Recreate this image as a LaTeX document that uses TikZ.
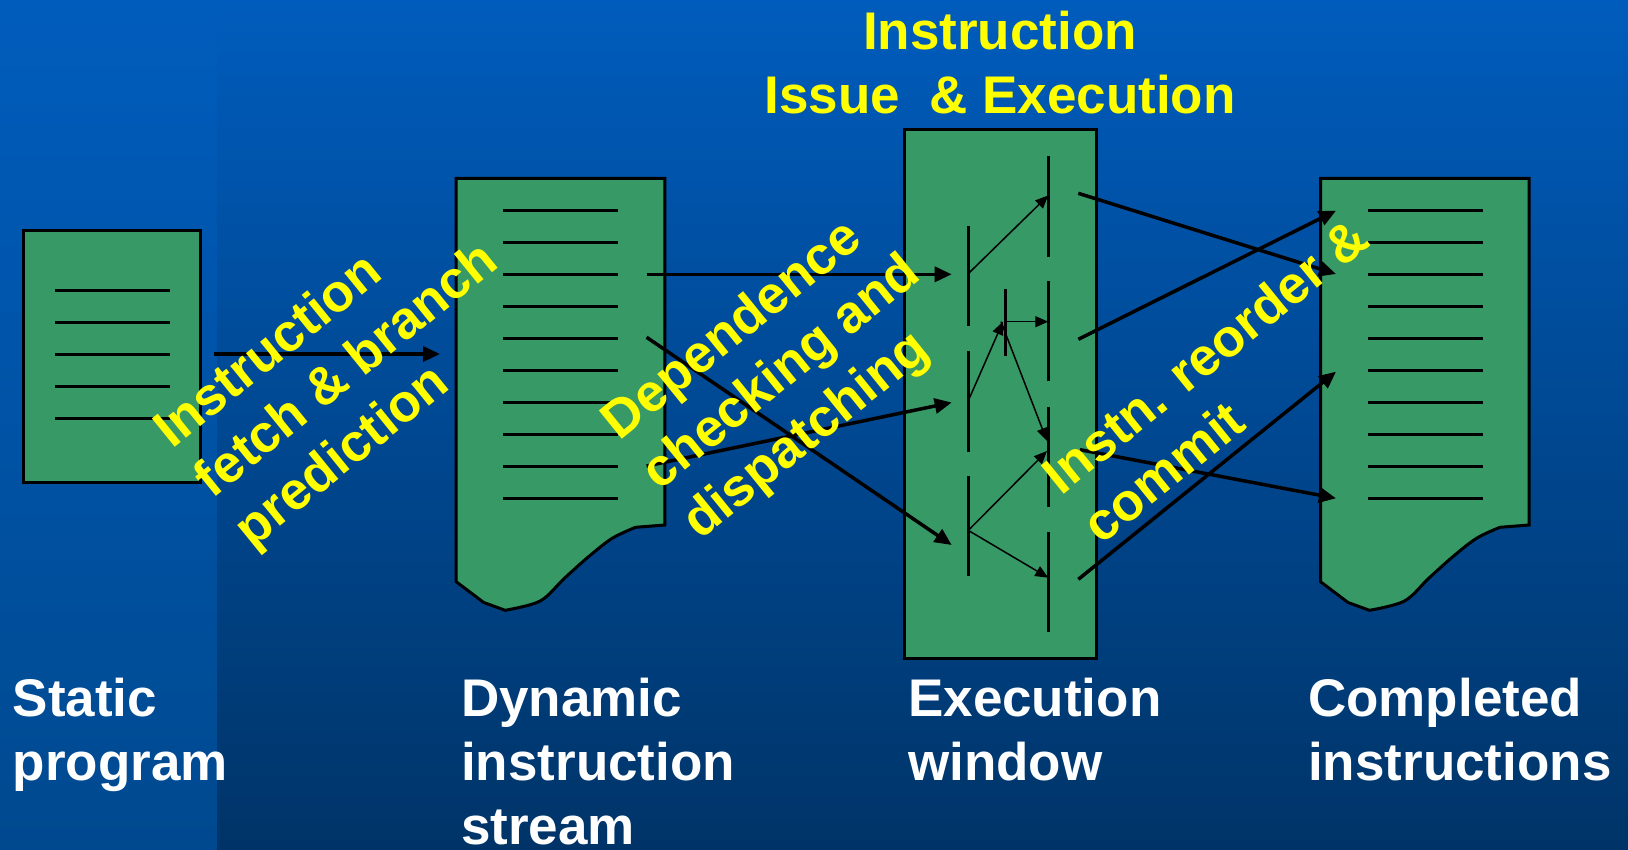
\documentclass[tikz,border=0pt]{standalone}
\usepackage{fontspec}
\setmainfont{Liberation Sans}
\usetikzlibrary{arrows.meta}

\definecolor{bgtop}{HTML}{005CBC}
\definecolor{bgbot}{HTML}{003468}
\definecolor{bandbot}{HTML}{00498F}
\definecolor{docgreen}{HTML}{369966}
\definecolor{labyellow}{HTML}{FFFF00}

\tikzset{
  docbox/.style={fill=docgreen, draw=black, line width=3pt, line join=miter},
  rowline/.style={draw=black, line width=3pt},
  slotbar/.style={draw=black, line width=3pt},
  bigarrow/.style={draw=black, line width=3.5pt, -{Triangle[length=17pt,width=15pt]}},
  thinarrow/.style={draw=black, line width=1.5pt, -{Triangle[length=13pt,width=11pt]}},
  bigfont/.style={font=\bfseries\fontsize{53}{64}\selectfont},
  stagelabel/.style={bigfont, text=labyellow, align=left, rotate=39, inner sep=0pt},
  caption/.style={bigfont, text=white, align=left, anchor=north west, inner sep=0pt},
}

% instruction listing with a torn lower edge; #1 = left x
\newcommand\instrdoc[1]{%
  \begin{scope}[shift={(#1,0)}]
    \draw[docbox] (0,178.3) -- (208.6,178.3) -- (208.6,525)
      -- plot[smooth,tension=0.55] coordinates {(179.4,527.3) (156,538.3) (132,557) (108,578.5) (84,601) (49,610.3)}
      -- (27.5,602.5) -- (0,581.7) -- cycle;
    \foreach \k in {0,...,9}
      \draw[rowline] (47,{210.3+32*\k}) -- (162,{210.3+32*\k});
  \end{scope}}

\begin{document}
\begin{tikzpicture}[x=1pt,y=-1pt]
  \useasboundingbox (0,0) rectangle (1628,849);

  % background
  \shade[top color=bgtop, bottom color=bgbot] (0,0) rectangle (1628,849);
  \shade[top color=bgtop, bottom color=bandbot] (0,0) rectangle (216.7,849);

  % static program
  \draw[docbox] (23,230) rectangle (200.7,482.7);
  \foreach \y in {290,322,354,386,418}
    \draw[rowline] (55,\y) -- (170,\y);

  % dynamic instruction stream and completed instructions
  \instrdoc{456.2}
  \instrdoc{1320.5}

  % execution window
  \draw[docbox] (904,129.8) rectangle (1096.5,658.3);

  % issue slots (column 1, 2, 3)
  \foreach \a/\b in {226/326, 351/451.5, 476/576}
    \draw[slotbar] (968.3,\a) -- (968.3,\b);
  \draw[slotbar] (1005,289) -- (1005,355.7);
  \foreach \a/\b in {156/257, 281/381, 406.6/506.5, 532/632}
    \draw[slotbar] (1048.3,\a) -- (1048.3,\b);

  % end points of the connectors
  \coordinate (sp-out) at (214,354);
  \coordinate (ds-in)  at (440,354);
  \coordinate (ds-a) at (646.6,274.3);
  \coordinate (ds-b) at (646.6,337.3);
  \coordinate (ds-c) at (646.6,466);
  \coordinate (w1-a) at (951.7,274.3);
  \coordinate (w1-b) at (951.7,402.5);
  \coordinate (w1-c) at (951.7,545);
  \coordinate (c1-a) at (968.3,273.6);
  \coordinate (c1-b) at (968.3,400.6);
  \coordinate (c1-c) at (968.3,530.4);
  \coordinate (c2-in)  at (1003,321.7);
  \coordinate (c2-out) at (1005,321.7);
  \coordinate (c2-top) at (1001,321.7);
  \coordinate (c3-a) at (1048.3,195.4);
  \coordinate (c3-b) at (1048.3,321.7);
  \coordinate (c3-c) at (1047,441);
  \coordinate (c3-d) at (1047,451);
  \coordinate (c3-e) at (1048.3,577.7);
  \coordinate (wo-a) at (1078.3,193.3);
  \coordinate (wo-b) at (1078.3,339.3);
  \coordinate (wo-c) at (1080,449.7);
  \coordinate (wo-d) at (1078.3,579.3);
  \coordinate (ci-a) at (1336,210.7);
  \coordinate (ci-b) at (1336,274);
  \coordinate (ci-c) at (1336,371.7);
  \coordinate (ci-d) at (1336,498.3);

  % fetch
  \draw[bigarrow] (sp-out) -- (ds-in);
  % dispatch
  \draw[bigarrow] (ds-a) -- (w1-a);
  \draw[bigarrow] (ds-b) -- (w1-c);
  \draw[bigarrow] (ds-c) -- (w1-b);
  % issue and execution inside the window
  \draw[thinarrow] (c1-a) -- (c3-a);
  \draw[thinarrow] (c1-b) -- (c2-in);
  \draw[thinarrow] (c2-out) -- (c3-b);
  \draw[thinarrow] (c2-top) -- (c3-c);
  \draw[thinarrow] (c1-c) -- (c3-d);
  \draw[thinarrow] (c1-c) -- (c3-e);
  % reorder and commit
  \draw[bigarrow] (wo-a) -- (ci-b);
  \draw[bigarrow] (wo-b) -- (ci-a);
  \draw[bigarrow] (wo-c) -- (ci-d);
  \draw[bigarrow] (wo-d) -- (ci-c);

  % titles and stage labels
  \node[bigfont, text=labyellow, align=center, anchor=north, inner sep=0pt] (title)
    at (1000,10.8) {Instruction\\Issue~~\& Execution};
  \node[stagelabel] (fetch) at (348,372) {Instruction\\fetch \& branch\\prediction};
  \node[stagelabel] (dispatch) at (783,374) {Dependence\\checking and\\dispatching};
  \node[stagelabel] (commit) at (1225,380.5) {Instn. reorder \&\\commit};

  % captions
  \node[caption] (cap-static) at (12.5,678.2) {Static\\program};
  \node[caption] (cap-dynamic) at (461,678.2) {Dynamic\\instruction\\stream};
  \node[caption] (cap-window) at (908,678.2) {Execution\\window};
  \node[caption] (cap-done) at (1308,678.2) {Completed\\instructions};
\end{tikzpicture}
\end{document}
